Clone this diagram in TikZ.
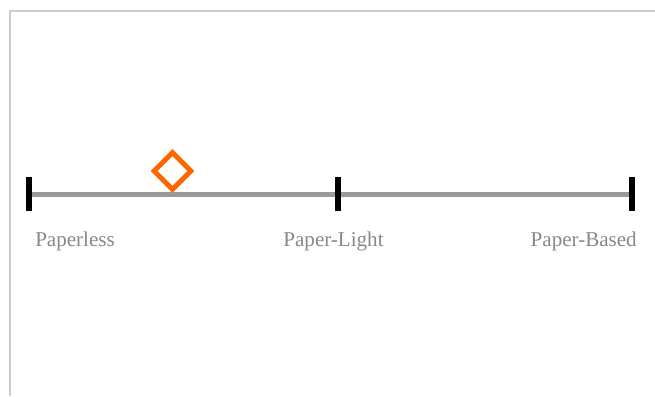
\documentclass[tikz,border=0pt]{standalone}
\usepackage{fontspec}
\setmainfont{Liberation Serif}
\usetikzlibrary{shapes.geometric}
\definecolor{framegray}{HTML}{CCCCCC}
\definecolor{axisgray}{HTML}{999999}
\definecolor{labelgray}{HTML}{888888}
\definecolor{markorange}{HTML}{FF6600}
\tikzset{
  frameline/.style={draw=framegray, line width=1.5pt},
  axisline/.style={draw=axisgray, line width=3.75pt},
  tickbar/.style={draw=black, line width=4.5pt},
  scalelabel/.style={text=labelgray, font=\fontsize{15.8pt}{18pt}\selectfont, inner sep=0pt},
  marker/.style={draw=markorange, line width=3.75pt, diamond, minimum width=29pt, minimum height=29pt, inner sep=0pt, aspect=1}
}
\begin{document}
\begin{tikzpicture}[x=0.75pt, y=-0.75pt]
  \useasboundingbox (0,0) rectangle (655,396);
  % frame edges
  \coordinate (ftl) at (10,11);
  \coordinate (ftr) at (655,11);
  \coordinate (fbl) at (10,396);
  \draw[frameline] (fbl) -- (ftl) -- (ftr);
  % scale positions
  \coordinate (pl) at (28.5,194);
  \coordinate (lt) at (338,194);
  \coordinate (pb) at (632,194);
  \draw[axisline] (pl) -- (pb);
  \foreach \p in {pl,lt,pb}
    \draw[tickbar] ([yshift=-12.4pt]\p) -- ([yshift=12.4pt]\p);
  % current position marker
  \node[marker] (mk) at (172.5,171) {};
  % labels
  \node[scalelabel, anchor=base west] (lpl) at (35,246) {Paperless};
  \node[scalelabel, anchor=base] (llt) at (333.5,246) {Paper-Light};
  \node[scalelabel, anchor=base east] (lpb) at (637,246) {Paper-Based};
\end{tikzpicture}
\end{document}
